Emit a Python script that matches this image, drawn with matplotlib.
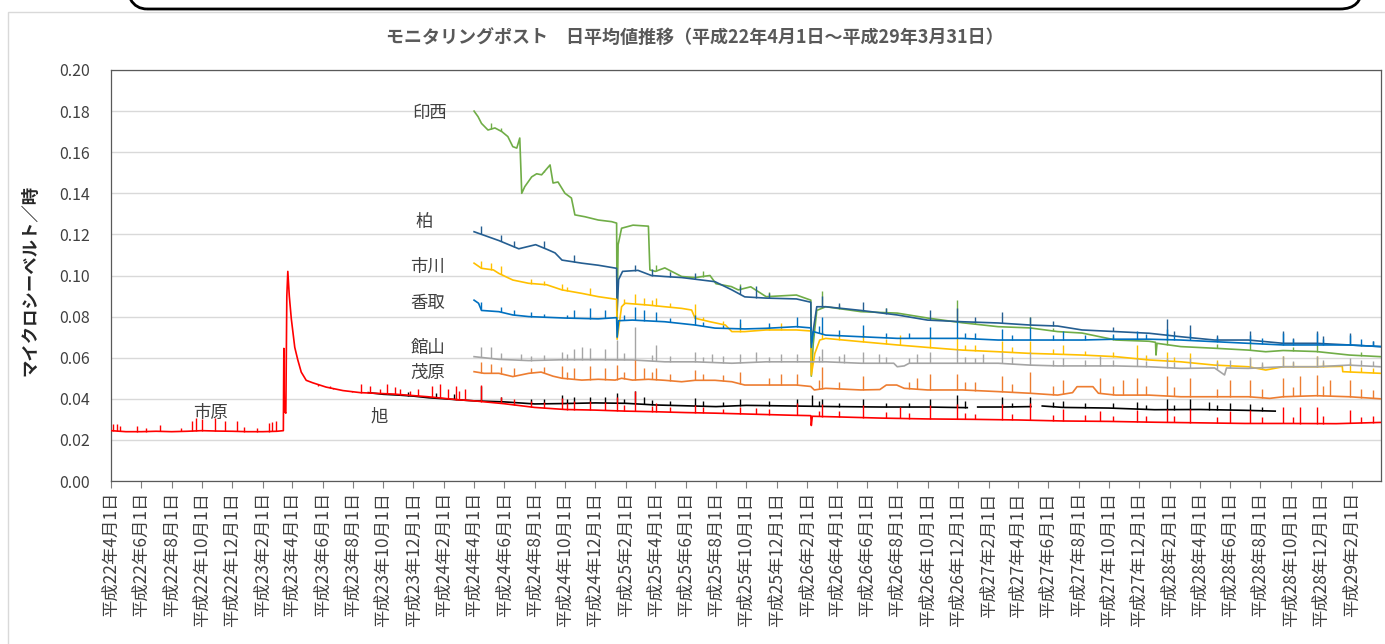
import numpy as np
import pandas as pd
import matplotlib

matplotlib.use("Agg")
import matplotlib.pyplot as plt
import matplotlib.dates as mdates
from matplotlib.patches import FancyBboxPatch, Rectangle
from matplotlib.transforms import IdentityTransform

plt.rcParams["font.family"] = ["Noto Sans CJK JP", "DejaVu Sans"]

# ---- data (daily averages) ----
ichihara_dates = [
    "2010-04-01", "2010-05-01", "2010-06-01", "2010-07-01", "2010-08-01", "2010-09-01",
    "2010-10-01", "2010-11-01", "2010-12-01", "2011-01-01", "2011-02-01", "2011-03-01",
    "2011-03-14", "2011-03-15", "2011-03-16", "2011-03-19", "2011-03-21", "2011-03-23",
    "2011-03-26", "2011-03-30", "2011-04-06", "2011-04-12", "2011-04-19", "2011-04-29",
    "2011-05-12", "2011-06-08", "2011-07-12", "2011-08-16", "2011-10-22", "2011-12-30",
    "2012-03-01", "2012-04-01", "2012-06-01", "2012-08-01", "2012-10-01", "2012-12-01",
    "2013-02-01", "2013-04-01", "2013-06-01", "2013-08-01", "2013-10-01", "2014-01-01",
    "2014-02-08", "2014-02-09", "2014-02-11", "2014-04-01", "2014-07-01", "2014-10-01",
    "2015-01-01", "2015-04-01", "2015-07-01", "2015-10-01", "2016-01-01", "2016-04-01",
    "2016-07-01", "2016-10-01", "2017-01-01", "2017-03-31",
]
ichihara_values = [
    0.0245, 0.0240, 0.0240, 0.0242, 0.0240, 0.0242,
    0.0245, 0.0243, 0.0242, 0.0240, 0.0240, 0.0242,
    0.0245, 0.0645, 0.0340, 0.0330, 0.0900, 0.1020,
    0.0900, 0.0790, 0.0650, 0.0590, 0.0530, 0.0490,
    0.0478, 0.0457, 0.0440, 0.0430, 0.0423, 0.0410,
    0.0395, 0.0390, 0.0376, 0.0358, 0.0348, 0.0345,
    0.0340, 0.0337, 0.0333, 0.0330, 0.0326, 0.0320,
    0.0318, 0.0270, 0.0315, 0.0312, 0.0306, 0.0302,
    0.0300, 0.0297, 0.0292, 0.0290, 0.0286, 0.0283,
    0.0280, 0.0280, 0.0279, 0.0285,
]
ichihara_spike_dates = [
    "2010-04-05", "2010-04-13", "2010-04-19", "2010-05-23", "2010-06-10", "2010-07-08",
    "2010-08-20", "2010-09-11", "2010-09-19", "2010-10-01", "2010-10-27", "2010-11-16",
    "2010-12-10", "2010-12-25", "2011-01-20", "2011-02-13", "2011-02-19", "2011-02-27",
    "2011-05-22", "2011-06-15", "2011-06-21", "2011-07-31", "2011-08-17", "2011-09-05",
    "2011-09-25", "2011-10-09", "2011-10-25", "2011-11-04", "2011-11-24", "2011-12-10",
    "2012-01-07", "2012-01-23", "2012-02-08", "2012-02-25", "2012-03-01", "2012-03-14",
    "2012-04-15", "2012-05-25", "2012-06-20", "2012-07-25", "2012-08-20", "2012-09-25",
    "2012-10-05", "2012-10-20", "2012-11-20", "2012-12-20", "2013-01-14", "2013-01-28",
    "2013-02-19", "2013-03-25", "2013-04-02", "2013-05-01", "2013-06-20", "2013-07-05",
    "2013-08-15", "2013-09-18", "2013-10-20", "2013-11-15", "2014-01-11", "2014-02-25",
    "2014-03-02", "2014-04-05", "2014-05-24", "2014-07-10", "2014-08-06", "2014-08-25",
    "2014-10-06", "2014-11-29", "2014-12-15", "2015-01-05", "2015-02-28", "2015-03-20",
    "2015-04-25", "2015-06-10", "2015-07-01", "2015-08-15", "2015-09-13", "2015-10-10",
    "2015-11-27", "2015-12-15", "2016-01-26", "2016-02-10", "2016-03-12", "2016-05-05",
    "2016-06-01", "2016-07-11", "2016-08-05", "2016-09-16", "2016-10-05", "2016-10-20",
    "2016-11-23", "2016-12-05", "2017-01-28", "2017-02-20", "2017-03-15",
]
ichihara_spike_tops = [
    0.0277, 0.0275, 0.0270, 0.0270, 0.0260, 0.0272,
    0.0260, 0.0290, 0.0306, 0.0300, 0.0305, 0.0290,
    0.0290, 0.0265, 0.0260, 0.0280, 0.0285, 0.0290,
    0.0460, 0.0460, 0.0450, 0.0440, 0.0470, 0.0460,
    0.0450, 0.0470, 0.0455, 0.0450, 0.0440, 0.0450,
    0.0460, 0.0470, 0.0450, 0.0460, 0.0440, 0.0450,
    0.0467, 0.0410, 0.0400, 0.0390, 0.0385, 0.0405,
    0.0380, 0.0390, 0.0390, 0.0385, 0.0410, 0.0370,
    0.0440, 0.0365, 0.0380, 0.0360, 0.0370, 0.0360,
    0.0350, 0.0360, 0.0355, 0.0350, 0.0380, 0.0340,
    0.0375, 0.0340, 0.0370, 0.0335, 0.0360, 0.0330,
    0.0370, 0.0375, 0.0330, 0.0325, 0.0375, 0.0325,
    0.0380, 0.0320, 0.0350, 0.0320, 0.0340, 0.0315,
    0.0345, 0.0315, 0.0350, 0.0315, 0.0350, 0.0310,
    0.0340, 0.0345, 0.0310, 0.0360, 0.0310, 0.0360,
    0.0360, 0.0315, 0.0345, 0.0310, 0.0315,
]

asahi_dates = [
    "2011-09-01", "2011-10-01", "2011-11-01", "2011-12-01", "2012-01-01", "2012-02-01",
    "2012-03-01", "2012-04-01", "2012-06-01", "2012-08-01", "2012-10-01", "2012-12-01",
    "2013-02-01", "2013-04-01", "2013-06-01", "2013-08-01", "2013-10-01", "2014-01-01",
    "2014-04-01", "2014-07-01", "2014-10-01", "2014-12-20", "2014-12-24", "2015-01-10",
    "2015-03-01", "2015-04-27", "2015-05-05", "2015-05-20", "2015-07-01", "2015-10-01",
    "2016-01-01", "2016-04-01", "2016-07-01", "2016-08-31",
]
asahi_values = [
    0.0430, 0.0422, 0.0418, 0.0413, 0.0405, 0.0400,
    0.0395, 0.0390, 0.0385, 0.0375, 0.0377, 0.0380,
    0.0378, 0.0370, 0.0366, 0.0362, 0.0368, 0.0365,
    0.0362, 0.0360, 0.0360, 0.0357, None, 0.0360,
    0.0360, 0.0362, None, 0.0365, 0.0358, 0.0355,
    0.0347, 0.0348, 0.0344, 0.0340,
]
asahi_spike_dates = [
    "2011-11-20", "2012-01-15", "2012-02-20", "2012-04-15", "2012-05-25", "2012-07-25",
    "2012-08-20", "2012-09-25", "2012-10-05", "2012-10-20", "2012-11-20", "2012-12-20",
    "2013-01-14", "2013-01-28", "2013-02-19", "2013-03-10", "2013-03-25", "2013-05-01",
    "2013-06-20", "2013-07-05", "2013-08-15", "2013-09-18", "2013-11-15", "2014-01-11",
    "2014-02-10", "2014-02-25", "2014-03-02", "2014-04-05", "2014-05-24", "2014-07-10",
    "2014-08-25", "2014-10-06", "2014-11-29", "2014-12-15", "2015-02-28", "2015-03-20",
    "2015-04-25", "2015-06-10", "2015-07-01", "2015-08-15", "2015-10-10", "2015-11-27",
    "2015-12-15", "2016-01-26", "2016-02-10", "2016-03-12", "2016-04-20", "2016-05-05",
    "2016-06-01", "2016-07-11", "2016-08-05",
]
asahi_spike_tops = [
    0.0435, 0.0430, 0.0425, 0.0460, 0.0410, 0.0400,
    0.0400, 0.0420, 0.0400, 0.0410, 0.0410, 0.0410,
    0.0430, 0.0400, 0.0440, 0.0410, 0.0395, 0.0390,
    0.0405, 0.0390, 0.0385, 0.0400, 0.0390, 0.0400,
    0.0420, 0.0390, 0.0400, 0.0380, 0.0400, 0.0380,
    0.0380, 0.0400, 0.0420, 0.0390, 0.0410, 0.0380,
    0.0410, 0.0385, 0.0390, 0.0380, 0.0380, 0.0385,
    0.0370, 0.0400, 0.0370, 0.0398, 0.0385, 0.0370,
    0.0380, 0.0375, 0.0360,
]

inzai_dates = [
    "2012-04-01", "2012-04-09", "2012-04-16", "2012-04-29", "2012-05-13", "2012-05-27",
    "2012-06-08", "2012-06-18", "2012-06-26", "2012-07-02", "2012-07-06", "2012-07-12",
    "2012-07-26", "2012-08-05", "2012-08-15", "2012-09-01", "2012-09-07", "2012-09-17",
    "2012-10-01", "2012-10-14", "2012-10-21", "2012-11-10", "2012-12-07", "2013-01-03",
    "2013-01-13", "2013-01-14", "2013-01-16", "2013-01-23", "2013-02-15", "2013-03-18",
    "2013-03-21", "2013-04-01", "2013-04-20", "2013-05-24", "2013-06-20", "2013-07-20",
    "2013-08-01", "2013-09-01", "2013-09-15", "2013-10-10", "2013-11-10", "2014-01-10",
    "2014-02-08", "2014-02-09", "2014-02-13", "2014-02-20", "2014-03-10", "2014-05-20",
    "2014-08-01", "2014-10-01", "2014-12-10", "2015-02-20", "2015-04-25", "2015-06-20",
    "2015-08-08", "2015-10-15", "2015-12-21", "2016-01-03", "2016-01-04", "2016-01-06",
    "2016-02-23", "2016-05-01", "2016-07-08", "2016-08-12", "2016-09-16", "2016-11-22",
    "2017-01-27", "2017-03-31",
]
inzai_values = [
    0.1800, 0.1773, 0.1740, 0.1708, 0.1718, 0.1700,
    0.1676, 0.1627, 0.1620, 0.1669, 0.1400, 0.1432,
    0.1480, 0.1495, 0.1490, 0.1538, 0.1450, 0.1455,
    0.1400, 0.1377, 0.1295, 0.1286, 0.1270, 0.1262,
    0.1255, 0.0780, 0.1150, 0.1230, 0.1245, 0.1240,
    0.1027, 0.1020, 0.1037, 0.0995, 0.0990, 0.1000,
    0.0960, 0.0946, 0.0930, 0.0945, 0.0897, 0.0905,
    0.0880, 0.0510, 0.0670, 0.0830, 0.0848, 0.0824,
    0.0817, 0.0793, 0.0770, 0.0751, 0.0745, 0.0727,
    0.0720, 0.0686, 0.0680, 0.0675, 0.0613, 0.0670,
    0.0654, 0.0646, 0.0637, 0.0629, 0.0635, 0.0630,
    0.0613, 0.0605,
]
inzai_spike_dates = [
    "2012-05-05", "2012-05-25", "2012-08-20", "2013-04-02", "2013-05-01", "2013-07-05",
    "2013-09-18", "2013-11-15", "2014-03-02", "2014-04-05", "2014-07-10", "2014-11-29",
    "2015-01-05", "2015-04-25", "2015-06-10", "2015-10-10", "2016-01-26", "2016-05-05",
    "2016-07-11", "2016-10-05", "2016-11-23", "2017-02-20",
]
inzai_spike_tops = [
    0.1740, 0.1720, 0.1510, 0.1050, 0.1015, 0.1020,
    0.0960, 0.0920, 0.0925, 0.0855, 0.0840, 0.0880,
    0.0780, 0.0800, 0.0745, 0.0705, 0.0720, 0.0665,
    0.0680, 0.0650, 0.0660, 0.0630,
]

kashiwa_dates = [
    "2012-04-01", "2012-05-21", "2012-06-30", "2012-08-03", "2012-08-28", "2012-09-11",
    "2012-09-25", "2012-11-04", "2012-12-07", "2013-01-13", "2013-01-14", "2013-01-17",
    "2013-01-25", "2013-02-25", "2013-03-24", "2013-04-20", "2013-05-24", "2013-07-30",
    "2013-09-02", "2013-09-28", "2013-11-10", "2014-01-10", "2014-02-08", "2014-02-09",
    "2014-02-20", "2014-03-10", "2014-05-20", "2014-08-01", "2014-10-01", "2014-12-10",
    "2015-02-20", "2015-04-25", "2015-06-20", "2015-08-08", "2015-10-15", "2015-12-21",
    "2016-02-23", "2016-05-01", "2016-07-08", "2016-09-16", "2016-11-22", "2017-01-27",
    "2017-03-31",
]
kashiwa_values = [
    0.1213, 0.1170, 0.1130, 0.1150, 0.1125, 0.1110,
    0.1075, 0.1060, 0.1050, 0.1035, 0.0830, 0.0980,
    0.1020, 0.1025, 0.1000, 0.0995, 0.0990, 0.0970,
    0.0930, 0.0896, 0.0890, 0.0886, 0.0870, 0.0670,
    0.0848, 0.0848, 0.0830, 0.0808, 0.0783, 0.0775,
    0.0769, 0.0759, 0.0754, 0.0735, 0.0727, 0.0719,
    0.0702, 0.0686, 0.0686, 0.0670, 0.0670, 0.0662,
    0.0654,
]
kashiwa_spike_dates = [
    "2012-04-15", "2012-05-25", "2012-06-20", "2012-08-20", "2012-10-20", "2013-02-19",
    "2013-03-25", "2013-05-01", "2013-06-20", "2013-09-18", "2013-10-20", "2013-11-15",
    "2014-03-02", "2014-04-05", "2014-05-24", "2014-07-10", "2014-10-06", "2014-11-29",
    "2015-01-05", "2015-02-28", "2015-04-25", "2015-06-10", "2015-10-10", "2016-01-26",
    "2016-02-10", "2016-03-12", "2016-05-05", "2016-07-11", "2016-09-16", "2016-10-05",
    "2016-11-23", "2016-12-05", "2017-01-28", "2017-03-15",
]
kashiwa_spike_tops = [
    0.1240, 0.1195, 0.1170, 0.1170, 0.1100, 0.1050,
    0.1030, 0.1015, 0.1010, 0.0950, 0.0950, 0.0915,
    0.0900, 0.0865, 0.0870, 0.0840, 0.0830, 0.0840,
    0.0800, 0.0820, 0.0800, 0.0780, 0.0750, 0.0790,
    0.0730, 0.0760, 0.0710, 0.0730, 0.0730, 0.0695,
    0.0730, 0.0705, 0.0720, 0.0680,
]

ichikawa_dates = [
    "2012-04-01", "2012-04-16", "2012-05-10", "2012-05-21", "2012-06-18", "2012-07-20",
    "2012-08-25", "2012-09-25", "2012-11-04", "2012-12-07", "2013-01-13", "2013-01-14",
    "2013-01-23", "2013-01-30", "2013-03-18", "2013-04-20", "2013-05-24", "2013-06-13",
    "2013-06-20", "2013-07-20", "2013-08-20", "2013-09-02", "2013-09-28", "2013-11-10",
    "2014-01-10", "2014-02-08", "2014-02-09", "2014-02-16", "2014-02-26", "2014-03-10",
    "2014-05-20", "2014-08-01", "2014-10-01", "2014-12-10", "2015-02-20", "2015-04-25",
    "2015-06-20", "2015-08-08", "2015-10-15", "2015-12-21", "2016-02-23", "2016-05-01",
    "2016-07-08", "2016-08-12", "2016-09-16", "2016-11-22", "2017-01-13", "2017-01-14",
    "2017-03-31",
]
ichikawa_values = [
    0.1060, 0.1035, 0.1027, 0.1010, 0.0978, 0.0962,
    0.0955, 0.0930, 0.0913, 0.0897, 0.0884, 0.0690,
    0.0848, 0.0865, 0.0856, 0.0848, 0.0840, 0.0832,
    0.0792, 0.0775, 0.0759, 0.0727, 0.0727, 0.0735,
    0.0735, 0.0730, 0.0516, 0.0620, 0.0686, 0.0694,
    0.0678, 0.0662, 0.0650, 0.0637, 0.0629, 0.0621,
    0.0617, 0.0613, 0.0605, 0.0589, 0.0580, 0.0564,
    0.0556, 0.0540, 0.0556, 0.0556, 0.0558, 0.0532,
    0.0524,
]
ichikawa_spike_dates = [
    "2012-04-15", "2012-05-05", "2012-05-25", "2012-07-25", "2012-08-20", "2012-09-25",
    "2012-10-05", "2012-11-20", "2013-01-28", "2013-02-19", "2013-03-10", "2013-03-25",
    "2013-04-02", "2013-05-01", "2013-06-20", "2013-07-05", "2013-08-15", "2013-09-18",
    "2013-11-15", "2013-12-10", "2014-03-02", "2014-04-05", "2014-05-24", "2014-07-10",
    "2014-08-06", "2014-10-06", "2014-11-29", "2014-12-15", "2015-01-05", "2015-02-28",
    "2015-03-20", "2015-04-25", "2015-06-10", "2015-07-01", "2015-08-15", "2015-10-10",
    "2015-11-27", "2015-12-15", "2016-01-26", "2016-02-10", "2016-03-12", "2016-05-05",
    "2016-07-11", "2016-08-05", "2016-09-16", "2016-10-05", "2016-11-23", "2016-12-05",
    "2017-01-28", "2017-02-20", "2017-03-15",
]
ichikawa_spike_tops = [
    0.1070, 0.1060, 0.1045, 0.0985, 0.0975, 0.0960,
    0.0945, 0.0940, 0.0885, 0.0910, 0.0890, 0.0880,
    0.0890, 0.0865, 0.0860, 0.0800, 0.0780, 0.0770,
    0.0755, 0.0770, 0.0730, 0.0715, 0.0720, 0.0690,
    0.0710, 0.0700, 0.0700, 0.0660, 0.0660, 0.0680,
    0.0650, 0.0680, 0.0640, 0.0660, 0.0635, 0.0630,
    0.0660, 0.0615, 0.0630, 0.0605, 0.0625, 0.0590,
    0.0600, 0.0570, 0.0610, 0.0580, 0.0610, 0.0580,
    0.0580, 0.0555, 0.0550,
]

katori_dates = [
    "2012-04-01", "2012-04-10", "2012-04-16", "2012-05-21", "2012-06-18", "2012-07-20",
    "2012-10-01", "2012-12-07", "2013-01-13", "2013-01-14", "2013-01-17", "2013-02-14",
    "2013-04-20", "2013-06-20", "2013-07-30", "2013-09-28", "2013-11-10", "2014-01-10",
    "2014-02-08", "2014-02-09", "2014-02-13", "2014-03-10", "2014-05-20", "2014-08-01",
    "2014-10-01", "2014-12-10", "2015-02-20", "2015-06-20", "2015-08-08", "2015-10-15",
    "2015-12-21", "2016-02-23", "2016-05-01", "2016-07-08", "2016-09-16", "2016-11-22",
    "2017-01-27", "2017-03-31",
]
katori_values = [
    0.0880, 0.0865, 0.0830, 0.0824, 0.0808, 0.0800,
    0.0793, 0.0789, 0.0795, 0.0700, 0.0780, 0.0783,
    0.0775, 0.0759, 0.0744, 0.0740, 0.0743, 0.0751,
    0.0745, 0.0650, 0.0727, 0.0710, 0.0702, 0.0694,
    0.0694, 0.0694, 0.0686, 0.0686, 0.0686, 0.0690,
    0.0690, 0.0686, 0.0678, 0.0670, 0.0662, 0.0662,
    0.0662, 0.0654,
]
katori_spike_dates = [
    "2012-04-15", "2012-05-25", "2012-06-20", "2012-07-25", "2012-08-20", "2012-10-05",
    "2012-10-20", "2012-11-20", "2012-12-20", "2013-01-28", "2013-02-19", "2013-03-10",
    "2013-04-02", "2013-05-01", "2013-06-20", "2013-07-05", "2013-08-15", "2013-09-18",
    "2013-11-15", "2014-01-11", "2014-02-25", "2014-03-02", "2014-04-05", "2014-05-24",
    "2014-07-10", "2014-08-25", "2014-10-06", "2014-11-29", "2014-12-15", "2015-01-05",
    "2015-02-28", "2015-03-20", "2015-04-25", "2015-06-10", "2015-07-01", "2015-08-15",
    "2015-10-10", "2015-11-27", "2015-12-15", "2016-01-26", "2016-02-10", "2016-03-12",
    "2016-05-05", "2016-07-11", "2016-08-05", "2016-09-16", "2016-10-05", "2016-11-23",
    "2016-12-05", "2017-01-28", "2017-02-20", "2017-03-15",
]
katori_spike_tops = [
    0.0870, 0.0845, 0.0830, 0.0820, 0.0815, 0.0810,
    0.0830, 0.0840, 0.0830, 0.0810, 0.0848, 0.0830,
    0.0820, 0.0795, 0.0810, 0.0775, 0.0760, 0.0790,
    0.0770, 0.0800, 0.0755, 0.0800, 0.0735, 0.0760,
    0.0720, 0.0720, 0.0750, 0.0780, 0.0720, 0.0720,
    0.0740, 0.0710, 0.0750, 0.0710, 0.0730, 0.0710,
    0.0715, 0.0730, 0.0715, 0.0740, 0.0710, 0.0720,
    0.0700, 0.0710, 0.0695, 0.0720, 0.0690, 0.0720,
    0.0690, 0.0710, 0.0690, 0.0680,
]

tateyama_dates = [
    "2012-04-01", "2012-05-21", "2012-07-20", "2012-09-25", "2012-12-07", "2013-02-14",
    "2013-04-20", "2013-06-20", "2013-09-02", "2013-11-10", "2014-01-10", "2014-03-10",
    "2014-05-20", "2014-07-25", "2014-08-01", "2014-08-15", "2014-08-25", "2014-10-01",
    "2014-12-10", "2015-02-20", "2015-04-25", "2015-06-20", "2015-08-08", "2015-10-15",
    "2015-12-21", "2016-02-23", "2016-05-01", "2016-05-21", "2016-05-25", "2016-07-08",
    "2016-09-16", "2016-11-22", "2017-01-27", "2017-03-31",
]
tateyama_values = [
    0.0605, 0.0592, 0.0586, 0.0590, 0.0590, 0.0589,
    0.0580, 0.0580, 0.0573, 0.0580, 0.0580, 0.0580,
    0.0573, 0.0573, 0.0556, 0.0560, 0.0573, 0.0573,
    0.0573, 0.0573, 0.0564, 0.0560, 0.0560, 0.0560,
    0.0556, 0.0548, 0.0550, 0.0516, 0.0550, 0.0548,
    0.0556, 0.0556, 0.0564, 0.0556,
]
tateyama_spike_dates = [
    "2012-04-15", "2012-05-05", "2012-05-25", "2012-07-05", "2012-07-25", "2012-08-20",
    "2012-09-25", "2012-10-05", "2012-10-20", "2012-11-05", "2012-11-20", "2012-12-20",
    "2013-01-14", "2013-01-28", "2013-02-19", "2013-03-25", "2013-04-02", "2013-05-01",
    "2013-06-20", "2013-07-05", "2013-07-25", "2013-08-15", "2013-09-18", "2013-10-20",
    "2013-11-15", "2013-12-10", "2014-01-11", "2014-02-25", "2014-03-02", "2014-04-05",
    "2014-04-15", "2014-05-24", "2014-06-25", "2014-07-10", "2014-08-25", "2014-09-10",
    "2014-10-06", "2014-11-29", "2014-12-15", "2015-01-05", "2015-01-20", "2015-02-28",
    "2015-03-20", "2015-04-25", "2015-06-10", "2015-07-01", "2015-08-15", "2015-09-13",
    "2015-10-10", "2015-11-27", "2015-12-15", "2016-01-26", "2016-02-10", "2016-03-12",
    "2016-05-05", "2016-06-01", "2016-07-11", "2016-08-05", "2016-09-16", "2016-10-05",
    "2016-11-23", "2016-12-05", "2017-01-28", "2017-02-20", "2017-03-15",
]
tateyama_spike_tops = [
    0.0654, 0.0650, 0.0625, 0.0620, 0.0610, 0.0615,
    0.0630, 0.0620, 0.0640, 0.0650, 0.0645, 0.0640,
    0.0686, 0.0625, 0.0750, 0.0615, 0.0660, 0.0610,
    0.0630, 0.0605, 0.0620, 0.0610, 0.0620, 0.0630,
    0.0605, 0.0620, 0.0620, 0.0610, 0.0640, 0.0610,
    0.0620, 0.0630, 0.0620, 0.0605, 0.0600, 0.0620,
    0.0630, 0.0640, 0.0605, 0.0600, 0.0620, 0.0630,
    0.0605, 0.0630, 0.0590, 0.0600, 0.0590, 0.0610,
    0.0590, 0.0600, 0.0585, 0.0600, 0.0580, 0.0600,
    0.0580, 0.0590, 0.0605, 0.0580, 0.0610, 0.0585,
    0.0610, 0.0590, 0.0600, 0.0590, 0.0585,
]

mobara_dates = [
    "2012-04-01", "2012-04-21", "2012-05-21", "2012-06-18", "2012-07-20", "2012-08-14",
    "2012-09-07", "2012-09-25", "2012-11-04", "2012-12-07", "2013-01-10", "2013-01-23",
    "2013-02-14", "2013-03-18", "2013-04-20", "2013-05-24", "2013-06-20", "2013-07-30",
    "2013-09-02", "2013-09-28", "2013-11-10", "2014-01-10", "2014-02-08", "2014-02-15",
    "2014-03-10", "2014-05-20", "2014-06-27", "2014-07-10", "2014-07-31", "2014-08-15",
    "2014-10-01", "2014-12-10", "2015-02-20", "2015-04-25", "2015-06-20", "2015-07-20",
    "2015-07-29", "2015-08-30", "2015-09-10", "2015-10-15", "2015-12-21", "2016-02-23",
    "2016-05-01", "2016-07-08", "2016-08-20", "2016-09-16", "2016-11-22", "2017-01-27",
    "2017-03-31",
]
mobara_values = [
    0.0532, 0.0524, 0.0524, 0.0508, 0.0524, 0.0530,
    0.0510, 0.0500, 0.0491, 0.0495, 0.0491, 0.0500,
    0.0491, 0.0495, 0.0490, 0.0483, 0.0490, 0.0490,
    0.0483, 0.0467, 0.0467, 0.0467, 0.0460, 0.0443,
    0.0451, 0.0443, 0.0445, 0.0467, 0.0467, 0.0451,
    0.0443, 0.0443, 0.0435, 0.0427, 0.0418, 0.0430,
    0.0459, 0.0459, 0.0427, 0.0418, 0.0418, 0.0410,
    0.0410, 0.0410, 0.0402, 0.0410, 0.0415, 0.0410,
    0.0400,
]
mobara_spike_dates = [
    "2012-04-15", "2012-05-05", "2012-05-25", "2012-06-20", "2012-07-25", "2012-08-20",
    "2012-09-25", "2012-10-05", "2012-10-20", "2012-11-20", "2012-12-20", "2013-01-14",
    "2013-01-28", "2013-02-19", "2013-03-10", "2013-03-25", "2013-04-02", "2013-05-01",
    "2013-06-20", "2013-07-05", "2013-08-15", "2013-09-18", "2013-11-15", "2013-12-10",
    "2014-01-11", "2014-02-25", "2014-03-02", "2014-04-05", "2014-05-24", "2014-08-25",
    "2014-09-10", "2014-10-06", "2014-11-29", "2014-12-15", "2015-01-05", "2015-02-28",
    "2015-03-20", "2015-04-25", "2015-06-10", "2015-07-01", "2015-09-13", "2015-10-10",
    "2015-10-30", "2015-11-27", "2015-12-15", "2016-01-26", "2016-02-10", "2016-03-12",
    "2016-05-05", "2016-06-01", "2016-07-11", "2016-08-05", "2016-09-16", "2016-10-05",
    "2016-10-20", "2016-11-23", "2016-12-05", "2016-12-20", "2017-01-28", "2017-02-20",
    "2017-03-15",
]
mobara_spike_tops = [
    0.0580, 0.0570, 0.0555, 0.0550, 0.0550, 0.0555,
    0.0560, 0.0530, 0.0550, 0.0560, 0.0550, 0.0564,
    0.0530, 0.0590, 0.0550, 0.0530, 0.0550, 0.0520,
    0.0540, 0.0520, 0.0515, 0.0530, 0.0500, 0.0520,
    0.0520, 0.0490, 0.0556, 0.0480, 0.0510, 0.0480,
    0.0500, 0.0520, 0.0520, 0.0480, 0.0480, 0.0510,
    0.0470, 0.0530, 0.0460, 0.0490, 0.0500, 0.0460,
    0.0490, 0.0500, 0.0460, 0.0510, 0.0455, 0.0500,
    0.0450, 0.0490, 0.0490, 0.0450, 0.0500, 0.0455,
    0.0510, 0.0515, 0.0460, 0.0490, 0.0490, 0.0450,
    0.0445,
]

# station name, colour, daily series, spikes (drawn back to front)
stations = [
    ("印西", "#70AD47", inzai_dates, inzai_values, inzai_spike_dates, inzai_spike_tops),
    ("柏", "#255E91", kashiwa_dates, kashiwa_values, kashiwa_spike_dates, kashiwa_spike_tops),
    ("市川", "#FFC000", ichikawa_dates, ichikawa_values, ichikawa_spike_dates, ichikawa_spike_tops),
    ("香取", "#0070C0", katori_dates, katori_values, katori_spike_dates, katori_spike_tops),
    ("館山", "#A5A5A5", tateyama_dates, tateyama_values, tateyama_spike_dates, tateyama_spike_tops),
    ("茂原", "#ED7D31", mobara_dates, mobara_values, mobara_spike_dates, mobara_spike_tops),
    ("旭", "#000000", asahi_dates, asahi_values, asahi_spike_dates, asahi_spike_tops),
    ("市原", "#FF0000", ichihara_dates, ichihara_values, ichihara_spike_dates, ichihara_spike_tops),
]

tick_dates = pd.date_range("2010-04-01", "2017-02-01", freq="2MS")
tick_labels = [f"平成{d.year - 1988}年{d.month}月1日" for d in tick_dates]

title = "モニタリングポスト　日平均値推移（平成22年4月1日～平成29年3月31日）"
y_label = "マイクロシーベルト／時"

# ---- figure ----
fig = plt.figure(figsize=(13.85, 6.44), dpi=100)
ax = fig.add_axes([111 / 1385, 1 - 481 / 644, 1270 / 1385, 411 / 644])

for name, color, dates, values, sp_dates, sp_tops in stations:
    x = mdates.date2num(pd.to_datetime(dates))
    v = np.array(values, dtype=float)
    ax.plot(x, v, color=color, lw=1.2, zorder=3)
    sx = mdates.date2num(pd.to_datetime(sp_dates))
    ok = ~np.isnan(v)
    foot = np.interp(sx, x[ok], v[ok])
    ax.vlines(sx, foot, sp_tops, color=color, lw=1.0, zorder=3)

ax.set_xlim(mdates.date2num(pd.Timestamp("2010-04-01")), mdates.date2num(pd.Timestamp("2017-04-01")))
ax.set_ylim(0, 0.2)
ax.set_yticks(np.arange(0, 0.201, 0.02))
ax.set_yticklabels([f"{t:.2f}" for t in np.arange(0, 0.201, 0.02)])
ax.set_xticks(mdates.date2num(tick_dates))
ax.set_xticklabels(tick_labels, rotation=90, ha="center", va="top")

ax.yaxis.grid(True, color="#D9D9D9", lw=1)
ax.set_axisbelow(True)
ax.tick_params(axis="y", length=0, pad=15, labelsize=11.5, labelcolor="#404040")
ax.tick_params(axis="x", length=5, width=0.8, color="#7F7F7F", pad=3, labelsize=12.5, labelcolor="#404040")
for side in ["left", "bottom", "right", "top"]:
    ax.spines[side].set_color("#595959")
    ax.spines[side].set_linewidth(0.9)

# station names next to the lines
label_pos = [
    ("印西", "2012-01-03", 0.179), ("柏", "2011-12-22", 0.126), ("市川", "2011-12-30", 0.104),
    ("香取", "2011-12-30", 0.0866), ("館山", "2011-12-30", 0.0647), ("茂原", "2011-12-30", 0.0526),
    ("市原", "2010-10-19", 0.033), ("旭", "2011-09-22", 0.0316),
]
for name, d, yv in label_pos:
    ax.text(mdates.date2num(pd.Timestamp(d)), yv, name, ha="center", va="center",
            fontsize=12.5, color="#404040", zorder=4)

fig.text(0.502, 1 - 37 / 644, title, ha="center", va="center", fontsize=13,
         fontweight="bold", color="#595959")
fig.text(30 / 1385, 1 - 280 / 644, y_label, rotation=90, ha="center", va="center",
         fontsize=12.5, fontweight="bold", color="#262626")

# frame of the chart area and the callout box above it
fig.patches.append(Rectangle((8, -10), 1400, 644 - 12 + 10, transform=IdentityTransform(),
                             fill=False, edgecolor="#D9D9D9", lw=1))
fig.patches.append(FancyBboxPatch((125, 635), 1237, 60, boxstyle="round,pad=0,rounding_size=22",
                                  transform=IdentityTransform(), fill=False,
                                  edgecolor="#000000", lw=2))

fig.savefig("out.png", dpi=100, facecolor="white")
